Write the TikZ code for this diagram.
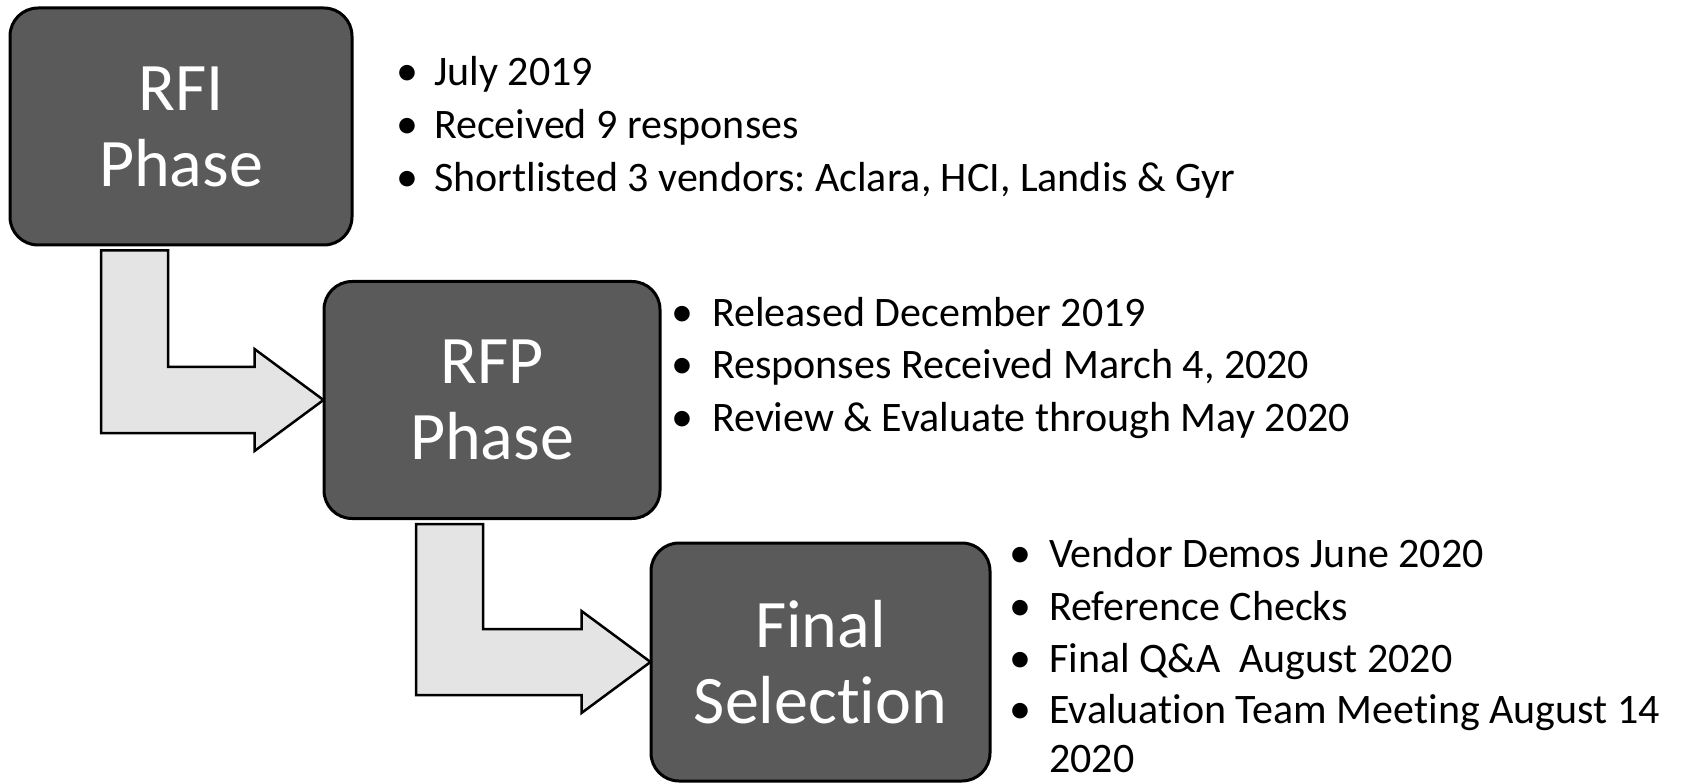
\documentclass[tikz,border=0pt]{standalone}
\usepackage{fontspec}
\setmainfont{Carlito}[Ligatures=NoCommon]
\frenchspacing
\usetikzlibrary{calc,backgrounds}
\definecolor{boxgray}{HTML}{5A5A5A}
\definecolor{arrowgray}{HTML}{E4E4E4}
\tikzset{
  phasebox/.style={draw=black, line width=3pt, fill=boxgray, rounded corners=28pt,
    inner sep=0pt, text=white, align=center,
    font=\fontsize{68}{76}\selectfont},
  elbow/.style={draw=black, line width=2.5pt, fill=arrowgray, line join=miter},
  bul/.style={anchor=base, inner sep=0pt, font=\fontsize{44}{50}\selectfont},
  item/.style={anchor=base west, inner sep=0pt, font=\fontsize{42}{50}\selectfont}
}
\newcommand\elbowarrow[3]{%
  \draw[elbow] let \p1=(#1.south), \p2=(#2.west) in
    (#3pt,\y1-4pt) -- (#3pt+67pt,\y1-4pt) -- (#3pt+67pt,\y2+33pt)
    -- (\x2-68pt,\y2+33pt) -- (\x2-68pt,\y2+51pt) -- (\x2+1pt,\y2)
    -- (\x2-68pt,\y2-51pt) -- (\x2-68pt,\y2-33pt) -- (#3pt,\y2-33pt) -- cycle;}
\begin{document}
\begin{tikzpicture}[x=1pt,y=-1pt]
\useasboundingbox (0,0) rectangle (1681,783);
% boxes
\node[phasebox, minimum width=342pt, minimum height=237pt] (rfi) at (181,126.5) {RFI\\Phase};
\node[phasebox, minimum width=336pt, minimum height=237pt] (rfp) at (492,400) {RFP\\Phase};
\node[phasebox, minimum width=339pt, minimum height=238pt] (fin) at (820.5,662) {Final\\Selection};
% arrows
\begin{scope}[on background layer]
\elbowarrow{rfi}{rfp}{101}
\elbowarrow{rfp}{fin}{416}
\end{scope}
% RFI bullets
\node[bul] (b11) at (407,86) {•};
\node[item] (t11) at (434,86) {July 2019};
\node[bul] (b12) at (407,139) {•};
\node[item] (t12) at (434,139) {Received 9 responses};
\node[bul] (b13) at (407,192) {•};
\node[item] (t13) at (434,192) {Shortlisted 3 vendors: Aclara, HCI, Landis \& Gyr};
% RFP bullets
\node[bul] (b21) at (682,327) {•};
\node[item] (t21) at (712,327) {Released December 2019};
\node[bul] (b22) at (682,379) {•};
\node[item] (t22) at (712,379) {Responses Received March 4, 2020};
\node[bul] (b23) at (682,431) {•};
\node[item] (t23) at (712,431) {Review \& Evaluate through May 2020};
% Final bullets
\node[bul] (b31) at (1020,567) {•};
\node[item] (t31) at (1049,567) {Vendor Demos June 2020};
\node[bul] (b32) at (1020,620) {•};
\node[item] (t32) at (1049,620) {Reference Checks};
\node[bul] (b33) at (1020,672) {•};
\node[item] (t33) at (1049,672) {Final Q\&A\ \ August 2020};
\node[bul] (b34) at (1020,723) {•};
\node[item] (t34) at (1049,723) {Evaluation Team Meeting August 14};
\node[item] (t35) at (1049,772) {2020};
\end{tikzpicture}
\end{document}
